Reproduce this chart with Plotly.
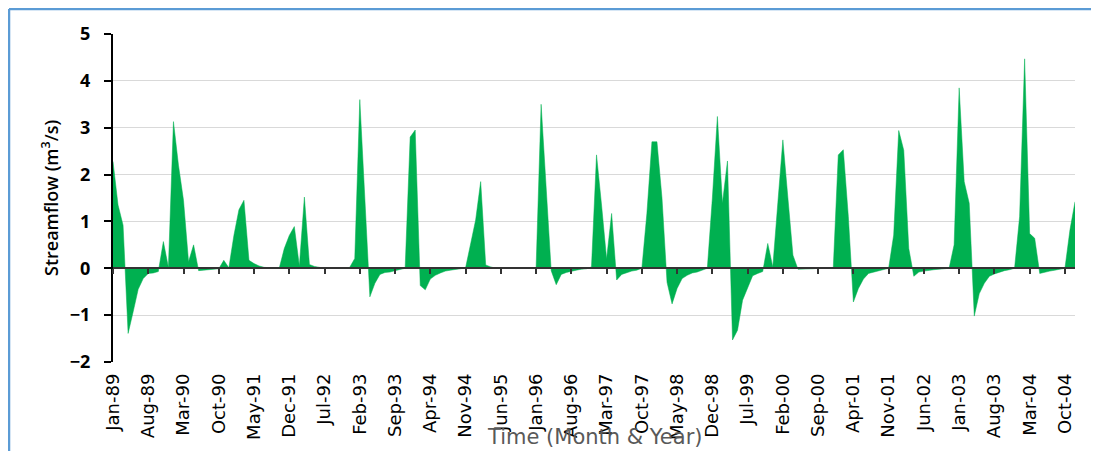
import plotly.graph_objects as go

# Monthly streamflow anomaly, Jan-89 .. Dec-04 (192 months)
streamflow = [
    2.28, 1.35, 0.92, -1.39, -0.93, -0.45, -0.22, -0.11, -0.10, -0.07, 0.57, 0.02,   # 1989
    3.13, 2.20, 1.45, 0.14, 0.50, -0.05, -0.04, -0.03, -0.02, -0.01, 0.17, 0.01,     # 1990
    0.70, 1.25, 1.45, 0.17, 0.10, 0.05, 0.02, 0.01, 0.00, 0.00, 0.42, 0.70,          # 1991
    0.89, 0.05, 1.52, 0.08, 0.04, 0.02, 0.00, 0.00, 0.00, 0.00, 0.00, 0.02,          # 1992
    0.21, 3.60, 1.45, -0.61, -0.32, -0.13, -0.09, -0.08, -0.05, -0.02, 0.00, 2.80,   # 1993
    2.95, -0.37, -0.46, -0.23, -0.15, -0.10, -0.06, -0.04, -0.03, -0.01, 0.01, 0.50, # 1994
    1.03, 1.85, 0.07, 0.03, 0.00, 0.00, 0.00, 0.00, 0.00, 0.00, 0.00, 0.00,          # 1995
    0.00, 3.50, 1.70, -0.05, -0.35, -0.13, -0.09, -0.06, -0.04, -0.02, -0.01, 0.03,  # 1996
    2.42, 1.35, 0.20, 1.17, -0.25, -0.13, -0.09, -0.06, -0.04, 0.00, 1.17, 2.70,     # 1997
    2.70, 1.50, -0.30, -0.76, -0.43, -0.22, -0.15, -0.10, -0.08, -0.04, 0.00, 1.50,  # 1998
    3.24, 1.39, 2.29, -1.53, -1.32, -0.68, -0.40, -0.16, -0.11, -0.07, 0.53, 0.03,   # 1999
    1.40, 2.74, 1.50, 0.28, -0.02, -0.02, -0.01, -0.01, 0.00, 0.00, 0.00, 0.00,      # 2000
    2.42, 2.53, 1.10, -0.72, -0.43, -0.23, -0.11, -0.08, -0.05, -0.03, 0.00, 0.71,   # 2001
    2.94, 2.52, 0.42, -0.17, -0.08, -0.06, -0.04, -0.03, -0.02, -0.01, 0.00, 0.50,   # 2002
    3.85, 1.85, 1.39, -1.02, -0.54, -0.32, -0.17, -0.12, -0.08, -0.05, -0.03, 0.00,  # 2003
    1.10, 4.47, 0.74, 0.64, -0.11, -0.08, -0.06, -0.04, -0.02, 0.00, 0.82, 1.42,     # 2004
]

tick_labels = [
    "Jan-89", "Aug-89", "Mar-90", "Oct-90", "May-91", "Dec-91", "Jul-92",
    "Feb-93", "Sep-93", "Apr-94", "Nov-94", "Jun-95", "Jan-96", "Aug-96",
    "Mar-97", "Oct-97", "May-98", "Dec-98", "Jul-99", "Feb-00", "Sep-00",
    "Apr-01", "Nov-01", "Jun-02", "Jan-03", "Aug-03", "Mar-04", "Oct-04",
]
tick_step = 7

x_idx = list(range(len(streamflow)))
tick_vals = list(range(0, len(streamflow), tick_step))[:len(tick_labels)]

fig = go.Figure()
fig.add_trace(go.Scatter(
    x=x_idx, y=streamflow, mode="lines", fill="tozeroy",
    fillcolor="#00B050", line=dict(color="#00B050", width=0.5),
    showlegend=False, hoverinfo="x+y", xaxis="x", yaxis="y",
))
# helper trace so the zero-crossing axis (x2) is rendered
fig.add_trace(go.Scatter(
    x=x_idx, y=streamflow, mode="lines", line=dict(width=0),
    showlegend=False, hoverinfo="skip", xaxis="x2", yaxis="y",
))

y_min, y_max = -2, 5
x_rng = [0, len(streamflow) - 1]

# page has an 8px body margin, so the figure is sized to fit the window
fig.update_layout(
    width=1091, height=443, autosize=False,
    margin=dict(l=105, r=24, t=26, b=89),
    paper_bgcolor="white", plot_bgcolor="white",
    xaxis=dict(
        range=x_rng, tickvals=tick_vals, ticktext=tick_labels,
        tickangle=-90, showgrid=False, zeroline=False, showline=False,
        ticks="", ticklabelstandoff=7,
        tickfont=dict(family="DejaVu Sans", size=18, color="#000000"),
    ),
    xaxis2=dict(
        range=x_rng, overlaying="x", matches="x", anchor="free",
        position=(0 - y_min) / (y_max - y_min), side="bottom",
        tickvals=tick_vals, showticklabels=False,
        showline=True, linecolor="#333333", linewidth=1.8,
        ticks="outside", ticklen=5, tickwidth=1.5, tickcolor="#333333",
        showgrid=False, zeroline=False,
    ),
    yaxis=dict(
        range=[y_min, y_max], dtick=1, tick0=0,
        showgrid=True, gridcolor="#D9D9D9", gridwidth=1,
        zeroline=False, showline=True, linecolor="#000000", linewidth=2,
        ticks="outside", ticklen=7, tickwidth=2, tickcolor="#000000",
        ticklabelstandoff=10,
        tickfont=dict(family="Open Sans", size=18, color="#000000", weight="bold"),
    ),
    annotations=[
        dict(text="Streamflow (m<sup>3</sup>/s)", xref="paper", yref="paper",
             x=-0.0655, y=0.5, textangle=-90, showarrow=False,
             xanchor="center", yanchor="middle",
             font=dict(family="Open Sans", size=18, color="#000000", weight=600)),
        dict(text="Time (Month & Year)", xref="paper", yref="paper",
             x=0.5, y=-0.2287, showarrow=False,
             xanchor="center", yanchor="middle",
             font=dict(family="DejaVu Sans", size=21, color="#595959")),
    ],
    shapes=[
        dict(type="line", xref="paper", yref="paper",
             x0=-0.1081, x1=-0.1081, y0=1.0762, y1=-0.30,
             line=dict(color="#5B9BD5", width=2.5)),
        dict(type="line", xref="paper", yref="paper",
             x0=-0.1081, x1=1.03, y0=1.0762, y1=1.0762,
             line=dict(color="#5B9BD5", width=2.5)),
    ],
)

fig.write_html("out.html")
